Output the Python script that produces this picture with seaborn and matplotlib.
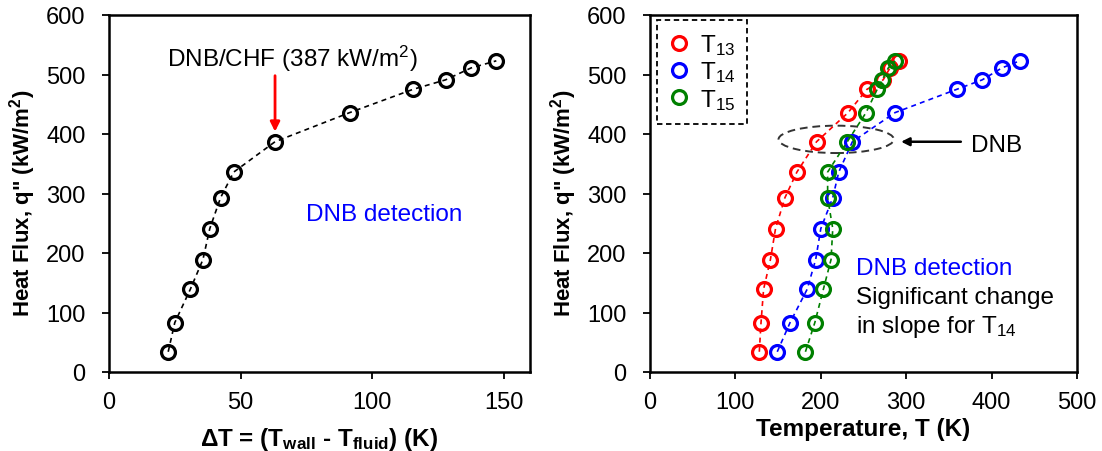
import matplotlib
matplotlib.use("Agg")
import matplotlib.pyplot as plt
from matplotlib.lines import Line2D
from matplotlib.patches import Ellipse
import seaborn as sns
import pandas as pd

# Heat flux steps (kW/m^2), shared by both panels
heat_flux = [34, 83, 139, 189, 241, 293, 336, 387, 436, 475, 491, 511, 523]

# Wall superheat (K) at each heat flux step
delta_t = [22.5, 25.0, 30.9, 35.7, 38.3, 42.4, 47.4, 63.1, 91.5, 115.5, 127.9, 137.6, 147.2]

# Thermocouple temperatures (K)
t13 = [128, 130, 133, 141, 147, 158, 172, 195, 232, 254, 273, 281, 291]
t14 = [149, 164, 184, 194, 200, 214, 221, 237, 287, 359, 389, 412, 433]
t15 = [182, 193, 203, 212, 214, 208, 208, 231, 253, 266, 272, 279, 287]

series_names = ["T$_\\mathrm{13}$", "T$_\\mathrm{14}$", "T$_\\mathrm{15}$"]
series_colors = ["#ff0000", "#0000ff", "#008000"]

left_xticks = [0, 50, 100, 150]
right_xticks = [0, 100, 200, 300, 400, 500]
yticks = [0, 100, 200, 300, 400, 500, 600]

sns.set_style("ticks")
plt.rcParams["font.family"] = ["Liberation Sans", "DejaVu Sans"]
plt.rcParams["mathtext.fontset"] = "custom"
plt.rcParams["mathtext.rm"] = "Liberation Sans"
plt.rcParams["mathtext.it"] = "Liberation Sans:italic"
plt.rcParams["mathtext.bf"] = "Liberation Sans:bold"
plt.rcParams["text.color"] = "black"
plt.rcParams["axes.labelcolor"] = "black"

FS = 17.5      # annotation / legend text
TICK_FS = 17
XLAB_FS = 17.5
YLAB_FS = 16

W, H = 1102, 452
fig = plt.figure(figsize=(W / 100, H / 100), dpi=100)
ax1 = fig.add_axes([109 / W, 1 - 373 / H, 421 / W, 357 / H])
ax2 = fig.add_axes([650 / W, 1 - 373 / H, 427 / W, 357 / H])

MS, MEW = 10, 2.3
line_kw = dict(marker="o", markersize=MS, markerfacecolor="none",
               markeredgewidth=MEW, linewidth=1.2, linestyle=(0, (3, 2.5)),
               sort=False, estimator=None, errorbar=None)

left_df = pd.DataFrame({"dT": delta_t, "q": heat_flux})
sns.lineplot(data=left_df, x="dT", y="q", ax=ax1, color="black",
             markeredgecolor="black", **line_kw)

for vals, name, col in zip([t13, t14, t15], series_names, series_colors):
    df = pd.DataFrame({"T": vals, "q": heat_flux})
    sns.lineplot(data=df, x="T", y="q", ax=ax2, color=col,
                 markeredgecolor=col, **line_kw)

for ax in (ax1, ax2):
    ax.set_ylim(0, 600)
    ax.set_yticks(yticks)
    for s in ax.spines.values():
        s.set_visible(True)
        s.set_linewidth(1.8)
        s.set_color("black")
    ax.tick_params(direction="out", length=5, width=1.3, labelsize=TICK_FS,
                   colors="black")
    ax.tick_params(axis="x", pad=8.5)
    ax.tick_params(axis="y", pad=12)
    ax.set_ylabel("Heat Flux, q\" (kW/m$^\\mathbf{2}$)", fontsize=YLAB_FS,
                  fontweight="bold", labelpad=6)
    ax.yaxis.label.set_y(0.474)

ax1.set_xlim(0, 160)
ax1.set_xticks(left_xticks)
ax1.set_xlabel("ΔT = (T$_\\mathbf{wall}$ - T$_\\mathbf{fluid}$) (K)",
               fontsize=XLAB_FS, fontweight="bold", labelpad=9)

ax2.set_xlim(0, 500)
ax2.set_xticks(right_xticks)
ax2.set_xlabel("Temperature, T (K)", fontsize=XLAB_FS, fontweight="bold",
               labelpad=3)

# Left panel annotations
ax1.text(22, 515, "DNB/CHF (387 kW/m$^\\mathrm{2}$)", fontsize=FS,
         ha="left", va="baseline")
ax1.annotate("", xy=(63.1, 404), xytext=(63.1, 498),
             arrowprops=dict(arrowstyle="-|>", color="red", lw=2,
                             mutation_scale=14, shrinkA=0, shrinkB=0))
ax1.text(75, 256, "DNB detection", color="#0000ff", fontsize=FS,
         ha="left", va="baseline")

# Right panel annotations
ax2.add_patch(Ellipse((218, 391), 135, 46, fill=False, edgecolor="#333333",
                      linestyle=(0, (4, 2.5)), linewidth=1.4))
ax2.annotate("", xy=(294, 387), xytext=(364, 387),
             arrowprops=dict(arrowstyle="-|>", color="black", lw=1.8,
                             mutation_scale=12, shrinkA=0, shrinkB=0))
ax2.text(376, 371, "DNB", fontsize=FS, ha="left", va="baseline")
ax2.text(241, 165, "DNB detection", color="#0000ff", fontsize=FS,
         ha="left", va="baseline")
ax2.text(241, 116, "Significant change", fontsize=FS, ha="left", va="baseline")
ax2.text(241, 68, "in slope for T$_\\mathrm{14}$", fontsize=FS,
         ha="left", va="baseline")

handles = [Line2D([], [], linestyle="none", marker="o", markersize=MS,
                  markerfacecolor="none", markeredgecolor=c,
                  markeredgewidth=MEW) for c in series_colors]
leg = ax2.legend(handles, series_names, loc="upper left",
                 bbox_to_anchor=(7 / 427, 1 - 5 / 357), borderaxespad=0,
                 fontsize=FS, frameon=True, fancybox=False, framealpha=1,
                 handlelength=0.8, handletextpad=0.45, labelspacing=0.1,
                 borderpad=0.5)
frame = leg.get_frame()
frame.set_edgecolor("black")
frame.set_linestyle((0, (3, 2)))
frame.set_linewidth(1.3)

fig.savefig("out.png", dpi=100)
